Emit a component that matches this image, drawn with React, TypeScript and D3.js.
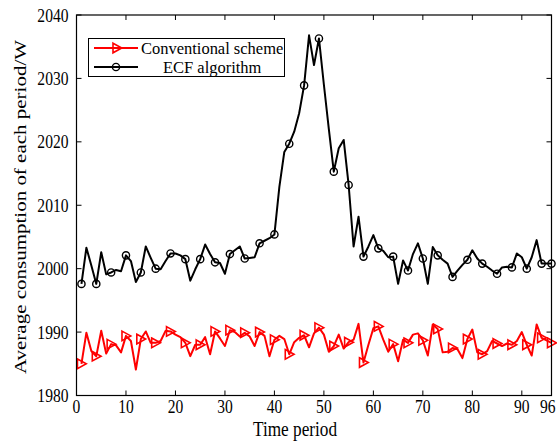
import React from 'react';
import * as d3 from 'd3';

const timePeriods: number[] = d3.range(1, 97);

const conventional: number[] = [
  1985.0, 1989.9, 1987.0, 1986.2, 1990.2, 1986.6, 1988.1, 1987.9, 1986.8, 1989.4,
  1988.6, 1984.1, 1988.9, 1990.1, 1988.3, 1988.3, 1988.6, 1990.2, 1990.1, 1989.6,
  1989.2, 1988.3, 1986.2, 1988.0, 1988.0, 1989.2, 1986.5, 1990.1, 1989.0, 1987.8,
  1990.3, 1990.0, 1989.3, 1989.9, 1989.3, 1987.8, 1990.0, 1989.4, 1986.2, 1988.8,
  1989.4, 1988.9, 1986.5, 1988.4, 1989.1, 1989.5, 1987.6, 1989.8, 1990.7, 1989.6,
  1986.9, 1987.8, 1989.6, 1987.4, 1988.4, 1988.8, 1991.3, 1985.2, 1988.0, 1990.6,
  1990.9, 1988.8, 1986.9, 1988.1, 1985.4, 1988.8, 1988.3, 1989.6, 1989.8, 1988.7,
  1986.3, 1991.2, 1990.5, 1986.8, 1986.9, 1987.5, 1987.3, 1985.9, 1988.9, 1990.4,
  1986.8, 1986.5, 1987.0, 1988.6, 1988.2, 1987.8, 1988.2, 1988.0, 1988.6, 1990.0,
  1988.0, 1986.3, 1991.2, 1989.1, 1988.7, 1988.3,
];

const ecf: number[] = [
  1997.6, 2003.3, 2000.5, 1997.6, 2002.6, 1999.1, 1999.4, 1999.8, 1999.6, 2002.1,
  2001.2, 1997.9, 1999.4, 2003.5, 2001.7, 2000.0, 1999.9, 2001.2, 2002.4, 2002.4,
  2002.1, 2001.5, 1998.1, 1999.9, 2001.5, 2003.8, 2002.3, 2001.0, 2000.9, 1999.2,
  2002.3, 2002.9, 2003.5, 2001.6, 2001.7, 2001.8, 2004.0, 2004.4, 2004.8, 2005.4,
  2012.9, 2018.4, 2019.7, 2021.6, 2024.5, 2028.9, 2036.8, 2032.1, 2036.3, 2029.0,
  2022.0, 2015.3, 2019.0, 2020.3, 2013.2, 2003.5, 2008.2, 2001.9, 2003.5, 2005.3,
  2003.2, 2002.8, 2001.8, 2001.9, 1997.6, 2001.3, 1999.7, 2002.3, 2004.0, 2001.6,
  1997.6, 2003.4, 2002.1, 2001.4, 2000.8, 1998.7, 1999.7, 2000.6, 2001.4, 2002.9,
  2001.6, 2000.8, 2000.3, 1999.7, 1999.2, 2000.2, 2000.3, 2000.2, 2002.4, 2001.8,
  2000.0, 2001.8, 2004.5, 2000.8, 2000.8, 2000.8,
];

const xTicks: number[] = [0, 10, 20, 30, 40, 50, 60, 70, 80, 90, 96];
const yTicks: number[] = [1980, 1990, 2000, 2010, 2020, 2030, 2040];
const seriesNames: string[] = ['Conventional scheme', 'ECF algorithm'];
const xLabel = 'Time period';
const yLabel = 'Average consumption of each period/W';

const W = 557;
const H = 442;
const PL = 76.5, PR = 551.5, PT = 15, PB = 395.5;
const SX = 0.82;
const FONT = '"Liberation Serif", "Times New Roman", serif';
const RED = '#ff0000';

function T(props: { x: number; y: number; size: number; sx?: number; anchor?: string; rotate?: boolean; children: React.ReactNode }) {
  const { x, y, size, sx = SX, anchor = 'start', rotate = false, children } = props;
  const tr = `translate(${x},${y}) scale(${sx},1)` + (rotate ? ' rotate(-90)' : '');
  return (
    <text transform={tr} fontSize={size} fontFamily={FONT} textAnchor={anchor as any} fill="#000">
      {children}
    </text>
  );
}

function triPath(cx: number, cy: number): string {
  return `M${cx - 4},${cy - 4.8}L${cx + 4.8},${cy}L${cx - 4},${cy + 4.8}Z`;
}

export default function App() {
  const x = d3.scaleLinear().domain([0, 96]).range([PL, PR]);
  const y = d3.scaleLinear().domain([1980, 2040]).range([PB, PT]);

  const mkLine = (vals: number[]) =>
    d3.line<number>().x((_, i) => x(timePeriods[i])).y((d) => y(d))(vals) || '';

  const markerIdx = timePeriods.map((_, i) => i).filter((i) => i % 3 === 0 || i === timePeriods.length - 1);

  const tickLen = 5;
  const lastTick = xTicks[xTicks.length - 1];

  return (
    <svg width={W} height={H} style={{ position: 'absolute', left: 0, top: 0, background: '#fff' }}>
      <rect x={0} y={0} width={W} height={H} fill="#fff" />
      <defs>
        <clipPath id="plotclip">
          <rect x={PL - 6} y={PT} width={PR - PL + 12} height={PB - PT} />
        </clipPath>
      </defs>

      {/* series */}
      <g clipPath="url(#plotclip)">
        <path d={mkLine(conventional)} fill="none" stroke={RED} strokeWidth={2} strokeLinejoin="round" />
        {markerIdx.map((i) => (
          <path key={'r' + i} d={triPath(x(timePeriods[i]), y(conventional[i]))} fill="none" stroke={RED} strokeWidth={1.6} />
        ))}
        <path d={mkLine(ecf)} fill="none" stroke="#000" strokeWidth={2} strokeLinejoin="round" />
        {markerIdx.map((i) => (
          <circle key={'b' + i} cx={x(timePeriods[i])} cy={y(ecf[i])} r={3.6} fill="none" stroke="#000" strokeWidth={1.4} />
        ))}
      </g>

      {/* axes box */}
      <rect x={PL} y={PT} width={PR - PL} height={PB - PT} fill="none" stroke="#000" strokeWidth={1.2} />

      {/* x ticks */}
      {xTicks.map((t) => (
        <g key={'xt' + t}>
          <line x1={x(t)} x2={x(t)} y1={PB} y2={PB - tickLen} stroke="#000" strokeWidth={1} />
          <line x1={x(t)} x2={x(t)} y1={PT} y2={PT + tickLen} stroke="#000" strokeWidth={1} />
          {t === lastTick ? (
            <T x={W - 1.5} y={PB + 17} size={19} anchor="end">{String(t)}</T>
          ) : (
            <T x={x(t)} y={PB + 17} size={19} anchor="middle">{String(t)}</T>
          )}
        </g>
      ))}

      {/* y ticks */}
      {yTicks.map((t) => (
        <g key={'yt' + t}>
          <line x1={PL} x2={PL + tickLen} y1={y(t)} y2={y(t)} stroke="#000" strokeWidth={1} />
          <line x1={PR} x2={PR - tickLen} y1={y(t)} y2={y(t)} stroke="#000" strokeWidth={1} />
          <T x={PL - 8} y={y(t) + 6.5} size={19} anchor="end">{String(t)}</T>
        </g>
      ))}

      {/* axis labels */}
      <T x={295} y={436} size={21} anchor="middle">{xLabel}</T>
      <T x={26} y={207} size={21} anchor="middle" rotate>{yLabel}</T>

      {/* legend */}
      <rect x={88.5} y={38.5} width={196} height={38} fill="#fff" stroke="#000" strokeWidth={1} />
      <line x1={94} x2={138} y1={48} y2={48} stroke={RED} strokeWidth={2} />
      <path d={triPath(117, 48)} fill="none" stroke={RED} strokeWidth={1.6} />
      <T x={141} y={53.5} size={16} sx={1.03}>{seriesNames[0]}</T>
      <line x1={94} x2={138} y1={67} y2={67} stroke="#000" strokeWidth={2} />
      <circle cx={116} cy={67} r={3.6} fill="none" stroke="#000" strokeWidth={1.4} />
      <T x={163} y={72.5} size={16} sx={1.03}>{seriesNames[1]}</T>
    </svg>
  );
}
